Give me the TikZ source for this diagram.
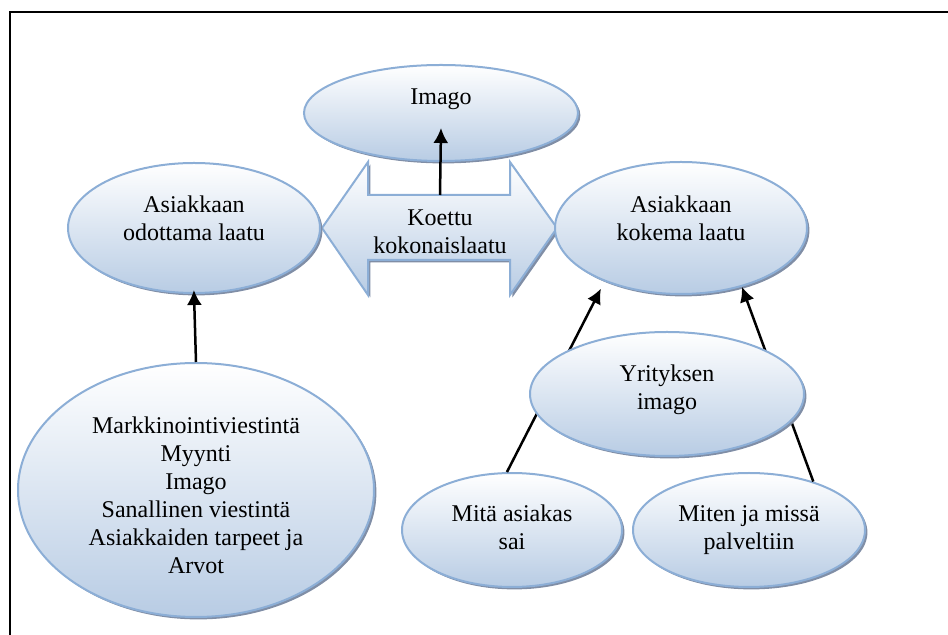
\documentclass[tikz,border=0pt]{standalone}
\usepackage{fontspec}
\setmainfont{Liberation Serif}
\usetikzlibrary{shapes.geometric}
\usetikzlibrary{arrows.meta}
\usetikzlibrary{shadows}
\definecolor{ellborder}{RGB}{140,174,214}
\definecolor{ellfill}{RGB}{184,204,228}
\definecolor{ellshadow}{RGB}{128,142,166}
\tikzstyle{bubble}=[
        ellipse,
        draw=ellborder,
        line width=1pt,
        top color=white,
        bottom color=ellfill,
        inner sep=0pt,
        align=center,
        font=\fontsize{12pt}{14pt}\selectfont,
        drop shadow={shadow xshift=1.2pt,shadow yshift=-1.2pt,fill=ellshadow,opacity=1}
]
\tikzstyle{bigarrow}=[draw=ellborder,line width=1pt,top color=white,bottom color=ellfill,
drop shadow={shadow xshift=1.2pt,shadow yshift=-1.2pt,fill=ellshadow,opacity=1}]
\tikzstyle{link}=[-{Latex[length=7.5pt,width=7.5pt]},line width=1.25pt]

\begin{document}
\begin{tikzpicture}[x=0.5pt,y=-0.5pt]
\useasboundingbox (0,0) rectangle (948,635);
\draw[line width=1pt] (948,12) -- (10,12) -- (10,635);
%Double arrow
\coordinate (mid) at (440,228);
\coordinate (shafttop) at (440,195);
\draw[bigarrow,shift={(mid)}] (-118,0) -- (-72,-66) -- (-72,-33) -- (70,-33) -- (70,-66)
  -- (117,0) -- (70,67) -- (70,32) -- (-72,32) -- (-72,67) -- cycle;
\node[align=center,font=\fontsize{12pt}{14pt}\selectfont,text height=25.4pt,text depth=0pt] (koettu) at (mid) {Koettu\\kokonaislaatu};
%Ellipses
\node[bubble,minimum width=126pt,minimum height=65pt,text height=12.4pt,text depth=0pt] (odottama) at (194,228) {Asiakkaan\\odottama laatu};
\node[bubble,minimum width=126pt,minimum height=66pt,text height=12.4pt,text depth=0pt] (kokema) at (681,228) {Asiakkaan\\kokema laatu};
\node[bubble,minimum width=137pt,minimum height=48pt,text height=9pt,text depth=17pt] (imago) at (441,113) {Imago};
\node[bubble,minimum width=178pt,minimum height=127pt,text height=83.4pt,text depth=0pt] (tekijat) at (196,490)
  {Markkinointiviestintä\\Myynti\\Imago\\Sanallinen viestintä\\Asiakkaiden tarpeet ja\\Arvot};
\node[bubble,minimum width=110pt,minimum height=57pt,text height=19.4pt,text depth=0pt] (mita) at (512,530) {Mitä asiakas\\sai};
\node[bubble,minimum width=116pt,minimum height=57pt,text height=19.4pt,text depth=0pt] (miten) at (749,530) {Miten ja missä\\palveltiin};
%Drawing Edges
\draw[link] (shafttop) -- ([yshift=-7.5pt]imago.center);
\draw[link,shorten >=-2pt] (tekijat.north) -- (odottama.south);
\draw[link,shorten >=4pt] (mita.95) -- (kokema.215);
\draw[link,shorten >=0pt] (miten.37) -- (kokema.316);
\node[bubble,minimum width=137pt,minimum height=62pt,text height=15.4pt,text depth=0pt] (yritys) at (667,394) {Yrityksen\\imago};
\end{tikzpicture}
\end{document}
